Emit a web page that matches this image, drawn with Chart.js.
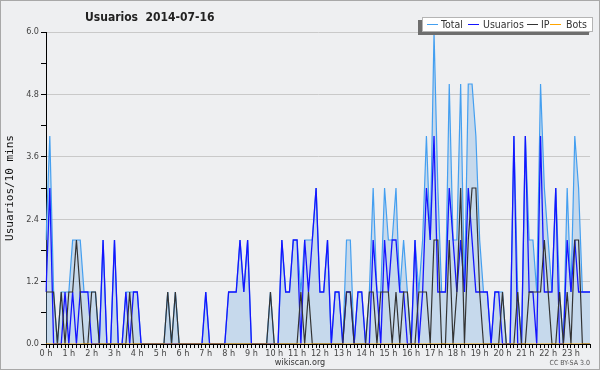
<!DOCTYPE html>
<html><head><meta charset="utf-8">
<script src="https://cdn.jsdelivr.net/npm/chart.js@4"></script>
<style>html,body{margin:0;padding:0;background:#fff}canvas{display:block}</style>
</head><body>
<canvas id="c" width="600" height="370"></canvas>
<script>
const chartTitle = 'Usuarios  2014-07-16';
const yAxisTitle = 'Usuarios/10 mins';
const seriesNames = ['Total', 'Usuarios', 'IP', 'Bots'];
const hourLabels = ['0 h','1 h','2 h','3 h','4 h','5 h','6 h','7 h','8 h','9 h','10 h','11 h',
  '12 h','13 h','14 h','15 h','16 h','17 h','18 h','19 h','20 h','21 h','22 h','23 h'];
const slots = [];
for (let h = 0; h < 24; h++) { for (let m = 0; m < 60; m += 10) { slots.push(h + ':' + (m < 10 ? '0' : '') + m); } }

const total = [
  2,4,1,0,1,1,1,2,2,2,1,1,
  1,1,0,2,0,0,2,0,0,1,1,1,
  1,0,0,0,0,0,0,0,1,0,1,0,
  0,0,0,0,0,0,1,0,0,0,0,0,
  1,1,1,2,1,2,0,0,0,0,0,1,
  0,0,2,1,1,2,2,1,2,2,2,3,
  1,1,2,0,1,1,0,2,2,0,1,1,
  0,1,3,1,1,3,2,2,3,1,2,1,
  0,2,1,2,4,2,6,3,1,1,5,2,
  2,5,1,5,5,4,2,1,1,0,1,1,
  1,0,0,4,1,0,4,2,2,1,5,3,
  2,1,3,1,0,3,1,4,3,1,1,1
];
const usuarios = [
  1,3,0,0,0,1,0,1,0,1,1,1,
  0,0,0,2,0,0,2,0,0,1,0,1,
  1,0,0,0,0,0,0,0,0,0,0,0,
  0,0,0,0,0,0,1,0,0,0,0,0,
  1,1,1,2,1,2,0,0,0,0,0,0,
  0,0,2,1,1,2,2,0,2,1,2,3,
  1,1,2,0,1,1,0,1,1,0,1,1,
  0,0,2,1,0,2,1,2,2,1,1,0,
  0,2,0,1,3,2,4,1,1,1,3,2,
  1,2,1,3,2,1,1,1,1,0,1,1,
  0,0,0,4,0,0,4,1,1,0,4,1,
  1,1,3,0,0,2,1,2,1,1,1,1
];
const ip = [
  1,1,1,0,1,0,1,1,2,1,0,0,
  1,1,0,0,0,0,0,0,0,0,1,0,
  0,0,0,0,0,0,0,0,1,0,1,0,
  0,0,0,0,0,0,0,0,0,0,0,0,
  0,0,0,0,0,0,0,0,0,0,0,1,
  0,0,0,0,0,0,0,1,0,1,0,0,
  0,0,0,0,0,0,0,1,1,0,0,0,
  0,1,1,0,1,1,1,0,1,0,1,1,
  0,0,1,1,1,0,2,2,0,0,2,0,
  1,3,0,2,3,3,1,0,0,0,0,0,
  1,0,0,0,1,0,0,1,1,1,1,2,
  1,0,0,1,0,1,0,2,2,0,0,0
];
const bots = [
  0,0,0,0,0,0,0,0,0,0,0,0,
  0,0,0,0,0,0,0,0,0,0,0,0,
  0,0,0,0,0,0,0,0,0,0,0,0,
  0,0,0,0,0,0,0,0,0,0,0,0,
  0,0,0,0,0,0,0,0,0,0,0,0,
  0,0,0,0,0,0,0,0,0,0,0,0,
  0,0,0,0,0,0,0,0,0,0,0,0,
  0,0,0,0,0,0,0,0,0,0,0,0,
  0,0,0,0,0,0,0,0,0,0,0,0,
  0,0,0,0,0,0,0,0,0,0,0,0,
  0,0,0,0,0,0,0,0,0,0,0,0,
  0,0,0,0,0,0,0,0,0,0,0,0
];

const COND = "'DejaVu Sans Condensed', 'DejaVu Sans', sans-serif";
const isMajor = v => Math.abs(v / 1.2 - Math.round(v / 1.2)) < 1e-6;

const decor = {
  id: 'decor',
  beforeDraw(chart) {
    const c = chart.ctx;
    c.save();
    c.fillStyle = '#eeeff1';
    c.fillRect(0, 0, chart.width, chart.height);
    c.strokeStyle = '#a8a8a8';
    c.lineWidth = 1;
    c.strokeRect(0.5, 0.5, chart.width - 1, chart.height - 1);
    c.restore();
  },
  afterDraw(chart) {
    const c = chart.ctx;
    c.save();
    // title
    c.fillStyle = '#222';
    c.font = "bold 12px " + COND;
    c.textBaseline = 'alphabetic';
    c.textAlign = 'left';
    c.fillText(chartTitle, 85, 21);
    // legend box with shadow
    c.fillStyle = '#6e6e6e';
    c.fillRect(418, 20, 171, 15);
    c.fillStyle = '#ffffff';
    c.fillRect(422, 17, 171, 15);
    c.strokeStyle = '#b4b4b4';
    c.strokeRect(422.5, 17.5, 170, 14);
    const ds = chart.data.datasets;
    const lineX = [427, 468, 527, 550];
    const textX = [441, 483, 541, 566];
    c.font = "10.5px " + COND;
    c.textBaseline = 'middle';
    for (let k = 0; k < ds.length; k++) {
      c.strokeStyle = ds[k].borderColor;
      c.lineWidth = 1;
      c.beginPath();
      c.moveTo(lineX[k], 24.5);
      c.lineTo(lineX[k] + 11, 24.5);
      c.stroke();
      c.fillStyle = '#333';
      c.fillText(ds[k].label, textX[k], 25);
    }
    // footer
    c.textBaseline = 'alphabetic';
    c.fillStyle = '#333';
    c.font = "9px " + COND;
    c.textAlign = 'center';
    c.fillText('wikiscan.org', 300, 365);
    c.fillStyle = '#555';
    c.font = "7px " + COND;
    c.textAlign = 'right';
    c.fillText('CC BY-SA 3.0', 590, 365);
    c.restore();
  }
};

new Chart(document.getElementById('c'), {
  type: 'line',
  data: {
    labels: slots,
    datasets: [
      { label: seriesNames[0], data: total, borderColor: '#449ff0', backgroundColor: 'rgba(120,175,225,0.34)',
        fill: 'origin', borderWidth: 1.2, pointRadius: 0, tension: 0, order: 4 },
      { label: seriesNames[1], data: usuarios, borderColor: '#1414ff', fill: false,
        borderWidth: 1.3, pointRadius: 0, tension: 0, order: 3 },
      { label: seriesNames[2], data: ip, borderColor: '#333333', fill: false,
        borderWidth: 1.2, pointRadius: 0, tension: 0, order: 2 },
      { label: seriesNames[3], data: bots, borderColor: '#ffa500', fill: false,
        borderWidth: 1, pointRadius: 0, tension: 0, order: 1 }
    ]
  },
  options: {
    responsive: false,
    animation: false,
    devicePixelRatio: 1,
    layout: { padding: { left: 0, right: 10, top: 32, bottom: 0 }, autoPadding: false },
    plugins: { legend: { display: false }, title: { display: false }, tooltip: { enabled: false } },
    scales: {
      x: {
        type: 'category',
        offset: false,
        z: 1,
        afterFit: s => { s.height = 26; },
        ticks: {
          autoSkip: false, maxRotation: 0, minRotation: 0, padding: 0, color: '#444',
          font: { family: COND, size: 9 },
          callback: (v, i) => (i % 6 === 0 ? hourLabels[i / 6] : '')
        },
        grid: { drawOnChartArea: false, drawTicks: true, tickLength: 4, tickColor: '#000', offset: false },
        border: { color: '#000', width: 1 }
      },
      y: {
        min: 0, max: 6,
        afterFit: s => { s.width = 46; },
        ticks: {
          stepSize: 0.6, autoSkip: false, padding: 2, color: '#444',
          font: { family: COND, size: 9 },
          callback: v => (isMajor(v) ? Number(v).toFixed(1) : '')
        },
        grid: {
          color: ctx => (ctx.tick && ctx.tick.value > 0 && isMajor(ctx.tick.value)) ? '#c9c9c9' : 'rgba(0,0,0,0)',
          lineWidth: 1, tickLength: 5, tickColor: '#000', drawTicks: true
        },
        border: { color: '#000', width: 1 },
        title: {
          display: true, text: yAxisTitle, color: '#111',
          font: { family: "'DejaVu Sans Mono', monospace", size: 11 },
          padding: { top: 4, bottom: 0 }
        }
      }
    }
  },
  plugins: [decor]
});
</script>
</body></html>
